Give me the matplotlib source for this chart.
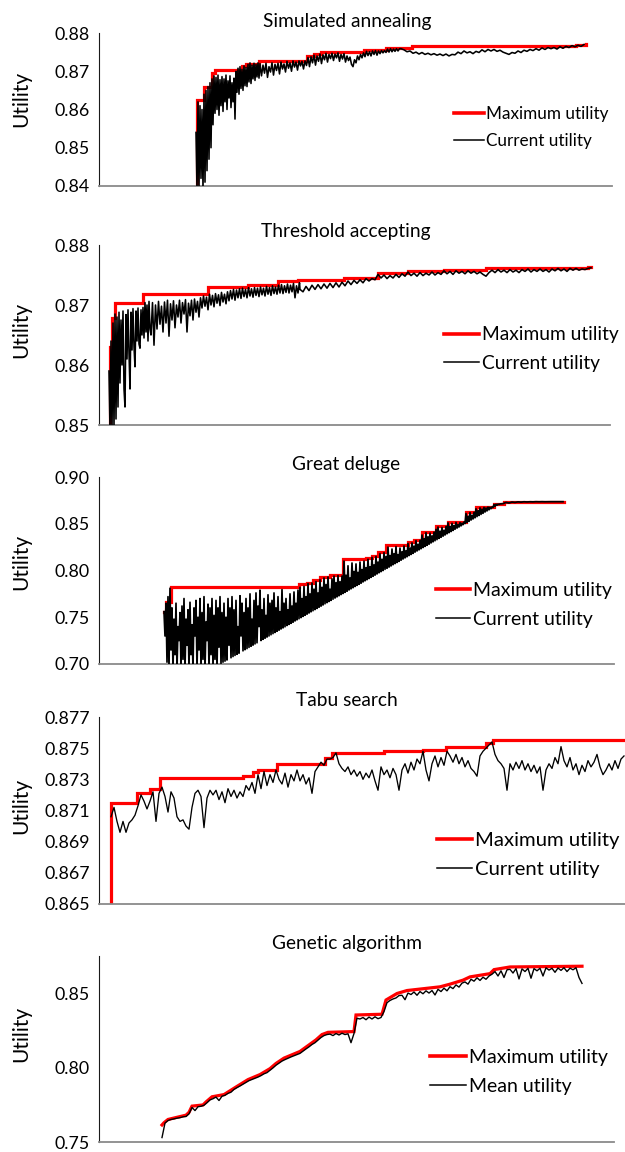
import numpy as np
import matplotlib
matplotlib.use("Agg")
import matplotlib.pyplot as plt
from matplotlib.lines import Line2D

plt.rcParams['font.family'] = ['Lato', 'DejaVu Sans']

W, H, DPI = 625, 1152, 100

# ======================= DATA (iteration index, utility) =======================
# ---- Simulated annealing ----
sa_max_iter = [97, 97.5, 98, 105, 113, 116, 143, 147, 160, 208, 215, 222, 265, 287, 313, 477, 487]
sa_max = [0.8390, 0.8540, 0.8625, 0.8660, 0.8695, 0.8703, 0.8714, 0.8719, 0.8728, 0.8740,
          0.8745, 0.8750, 0.8755, 0.8760, 0.8766, 0.8769, 0.8771]
sa_cur_a_start, sa_cur_a_step = 97, 1
sa_cur_a = [0.8540, 0.8390, 0.8620, 0.8395, 0.8610, 0.8420, 0.8600, 0.8390, 0.8640, 0.8410,
            0.8650, 0.8440, 0.8660, 0.8470, 0.8670, 0.8500, 0.8680, 0.8560, 0.8688, 0.8590,
            0.8684, 0.8600, 0.8690, 0.8585, 0.8678, 0.8610, 0.8686, 0.8595, 0.8680, 0.8620,
            0.8690, 0.8600, 0.8675, 0.8630, 0.8688, 0.8605, 0.8670, 0.8620, 0.8682, 0.8575,
            0.8700, 0.8645, 0.8708, 0.8640, 0.8712, 0.8655, 0.8705, 0.8650, 0.8714, 0.8662,
            0.8710, 0.8660, 0.8718, 0.8672, 0.8722, 0.8668, 0.8716, 0.8680, 0.8721, 0.8676,
            0.8718, 0.8685, 0.8722, 0.8682]
sa_cur_b_start, sa_cur_b_step = 161, 1.5
sa_cur_b = [0.8720, 0.8688, 0.8716, 0.8695, 0.8721, 0.8684, 0.8712, 0.8698, 0.8722, 0.8690,
            0.8718, 0.8702, 0.8721, 0.8693, 0.8724, 0.8706, 0.8719, 0.8698, 0.8726, 0.8708,
            0.8722, 0.8700, 0.8727, 0.8711, 0.8724, 0.8703, 0.8727, 0.8714, 0.8726, 0.8706,
            0.8727, 0.8715, 0.8736, 0.8712, 0.8738, 0.8722, 0.8742, 0.8716, 0.8740, 0.8726,
            0.8745, 0.8720, 0.8743, 0.8730, 0.8747, 0.8724, 0.8744, 0.8733, 0.8747, 0.8728,
            0.8745, 0.8735, 0.8748, 0.8726, 0.8744, 0.8732, 0.8746, 0.8724, 0.8740, 0.8728,
            0.8737, 0.8718, 0.8712, 0.8730, 0.8722, 0.8740, 0.8730, 0.8744, 0.8735, 0.8748,
            0.8738, 0.8752, 0.8741, 0.8751, 0.8740, 0.8753, 0.8744, 0.8754, 0.8742, 0.8753,
            0.8746, 0.8754, 0.8748, 0.8754, 0.8749, 0.8758, 0.8750, 0.8759, 0.8751, 0.8758,
            0.8752, 0.8759, 0.8753, 0.8759]
sa_cur_c_start, sa_cur_c_step = 302, 3
sa_cur_c = [0.8759, 0.8756, 0.8751,
            0.8753, 0.8747, 0.8750, 0.8745, 0.8749, 0.8744, 0.8747, 0.8743, 0.8746, 0.8742,
            0.8745, 0.8741, 0.8745, 0.8740, 0.8744, 0.8743, 0.8750, 0.8746, 0.8753, 0.8748,
            0.8751, 0.8746, 0.8752, 0.8749, 0.8756, 0.8751, 0.8757, 0.8753, 0.8757, 0.8752,
            0.8755, 0.8750, 0.8747, 0.8744, 0.8749, 0.8747, 0.8753, 0.8749, 0.8755, 0.8752,
            0.8757, 0.8754, 0.8759, 0.8755, 0.8761, 0.8757, 0.8762, 0.8759, 0.8762, 0.8758,
            0.8764, 0.8760, 0.8765, 0.8762, 0.8767, 0.8764, 0.8768, 0.8765, 0.8770]

# ---- Threshold accepting ----
ta_max_iter = [10, 10.5, 13, 16, 44, 109, 149, 179, 199, 245, 279, 309, 345, 387, 489, 492]
ta_max = [0.8490, 0.8630, 0.8678, 0.8704, 0.8718, 0.8730, 0.8734, 0.8740, 0.8742, 0.8745,
          0.8753, 0.8757, 0.8759, 0.8761, 0.8763, 0.8763]
ta_cur_a_start, ta_cur_a_step = 10, 1
ta_cur_a = [0.8590, 0.8490, 0.8640, 0.8490, 0.8670, 0.8495, 0.8685, 0.8510, 0.8680, 0.8530,
            0.8688, 0.8570, 0.8675, 0.8600, 0.8690, 0.8560, 0.8530, 0.8684, 0.8610, 0.8692,
            0.8620, 0.8560, 0.8688, 0.8625, 0.8694, 0.8630, 0.8597, 0.8690, 0.8640, 0.8695,
            0.8635, 0.8628, 0.8692, 0.8650, 0.8696, 0.8645, 0.8704, 0.8655, 0.8700, 0.8640,
            0.8706, 0.8660]
ta_cur_b_start, ta_cur_b_step = 52, 1.5
ta_cur_b = [0.8650, 0.8704, 0.8633, 0.8700, 0.8660, 0.8706, 0.8668, 0.8698, 0.8655, 0.8705,
            0.8670, 0.8708, 0.8648, 0.8702, 0.8675, 0.8707, 0.8662, 0.8700, 0.8680, 0.8708,
            0.8670, 0.8704, 0.8685, 0.8709, 0.8655, 0.8703, 0.8682, 0.8708, 0.8675, 0.8710,
            0.8688, 0.8706, 0.8680, 0.8712, 0.8695, 0.8715, 0.8698, 0.8713, 0.8692, 0.8718,
            0.8700, 0.8716, 0.8697, 0.8719, 0.8703, 0.8717, 0.8699, 0.8721, 0.8705, 0.8718,
            0.8702, 0.8722, 0.8707, 0.8724, 0.8710, 0.8726, 0.8708, 0.8725, 0.8712, 0.8727,
            0.8711, 0.8728, 0.8714, 0.8726, 0.8712, 0.8729, 0.8715, 0.8727, 0.8713, 0.8729,
            0.8716, 0.8728, 0.8714, 0.8730, 0.8717, 0.8728, 0.8715, 0.8731, 0.8718, 0.8729,
            0.8716, 0.8732, 0.8719, 0.8730, 0.8718, 0.8733, 0.8720, 0.8734, 0.8719, 0.8732,
            0.8721, 0.8735, 0.8720, 0.8733, 0.8722, 0.8736, 0.8712, 0.8732, 0.8720, 0.8737]
ta_cur_c_start, ta_cur_c_step = 201, 3
ta_cur_c = [0.8726,
            0.8722, 0.8731, 0.8724, 0.8733, 0.8726, 0.8734, 0.8727, 0.8735, 0.8728, 0.8736,
            0.8729, 0.8737, 0.8730, 0.8738, 0.8732, 0.8740, 0.8734, 0.8741, 0.8736, 0.8742,
            0.8737, 0.8744, 0.8740, 0.8744, 0.8742, 0.8751, 0.8745, 0.8750, 0.8744, 0.8749,
            0.8745, 0.8751, 0.8746, 0.8752, 0.8748, 0.8755, 0.8749, 0.8753, 0.8748, 0.8754,
            0.8749, 0.8753, 0.8750, 0.8755, 0.8750, 0.8754, 0.8751, 0.8757, 0.8752, 0.8756,
            0.8751, 0.8757, 0.8753, 0.8756, 0.8752, 0.8757, 0.8753, 0.8756, 0.8752, 0.8755,
            0.8751, 0.8748, 0.8754, 0.8758, 0.8754, 0.8759, 0.8755, 0.8758, 0.8754, 0.8759,
            0.8755, 0.8758, 0.8754, 0.8759, 0.8756, 0.8760, 0.8755, 0.8759, 0.8756, 0.8760,
            0.8756, 0.8759, 0.8755, 0.8760, 0.8757, 0.8761, 0.8757, 0.8760, 0.8756, 0.8761,
            0.8758, 0.8761, 0.8758, 0.8760, 0.8759, 0.8761, 0.8762]

# ---- Great deluge ----
gd_max_iter = [65, 67, 72, 200, 208, 214, 221, 231, 244, 267, 273, 279, 287, 309, 315, 323,
               337, 349, 367, 377, 395, 405, 465]
gd_max = [0.7560, 0.7667, 0.7827, 0.7852, 0.7870, 0.7900, 0.7934, 0.7950, 0.8120, 0.8135,
          0.8160, 0.8200, 0.8270, 0.8300, 0.8326, 0.8415, 0.8476, 0.8522, 0.8629, 0.8682,
          0.8711, 0.8736, 0.8736]
gd_cur_a_start, gd_cur_a_step = 65, 1
gd_cur_a = [0.7560, 0.7300, 0.7650, 0.7020, 0.7720, 0.6950, 0.7810, 0.7150, 0.7600, 0.6950,
            0.7480, 0.7100, 0.7650, 0.6950, 0.7400, 0.7250, 0.7550, 0.6950, 0.7620, 0.7050,
            0.7700, 0.6950, 0.7480, 0.7200, 0.7580, 0.6950, 0.7660, 0.7100, 0.7420, 0.6950,
            0.7600, 0.7300, 0.7680, 0.6950, 0.7500, 0.7150, 0.7700, 0.6950, 0.7550, 0.7050,
            0.7720, 0.6950, 0.7450, 0.7250, 0.7640, 0.6950, 0.7600, 0.7100, 0.7700, 0.6960,
            0.7520, 0.7050, 0.7680, 0.6950, 0.7600, 0.7180, 0.7720, 0.7006, 0.7550, 0.7020,
            0.7650, 0.7031, 0.7500, 0.7043, 0.7700, 0.7200, 0.7600, 0.7067, 0.7720, 0.7080,
            0.7580, 0.7092, 0.7680, 0.7104, 0.7400, 0.7116, 0.7730, 0.7300, 0.7650, 0.7141,
            0.7550, 0.7153, 0.7700, 0.7165, 0.7600, 0.7178, 0.7750, 0.7190, 0.7480, 0.7202,
            0.7680, 0.7215, 0.7760, 0.7227, 0.7620, 0.7400, 0.7790, 0.7251, 0.7580, 0.7264,
            0.7700, 0.7276, 0.7520, 0.7288, 0.7740, 0.7300, 0.7650, 0.7313, 0.7680, 0.7325,
            0.7760, 0.7337, 0.7600, 0.7350, 0.7720, 0.7362, 0.7560, 0.7374, 0.7795, 0.7386,
            0.7650, 0.7398, 0.7700, 0.7411, 0.7580, 0.7423, 0.7750, 0.7435, 0.7620, 0.7447,
            0.7770, 0.7460, 0.7650, 0.7472, 0.7790, 0.7484, 0.7820, 0.7496, 0.7700, 0.7509,
            0.7830, 0.7521, 0.7720, 0.7533, 0.7860, 0.7545, 0.7750, 0.7558, 0.7865, 0.7570,
            0.7800, 0.7582, 0.7880, 0.7594, 0.7760, 0.7607, 0.7900, 0.7619, 0.7820, 0.7631,
            0.7920, 0.7644, 0.7850, 0.7656, 0.7930, 0.7668, 0.7800, 0.7680, 0.7910, 0.7693,
            0.7940, 0.7705, 0.7870, 0.7717, 0.7945, 0.7729, 0.7880, 0.7742, 0.7940, 0.7754,
            0.8100, 0.7766, 0.7950, 0.7778, 0.8050, 0.7791, 0.7920, 0.7803, 0.8080, 0.7815,
            0.7990, 0.7828, 0.8070, 0.7840, 0.7980, 0.7852, 0.8090, 0.7864, 0.8010, 0.7877,
            0.8100, 0.7889, 0.8030, 0.7901, 0.8120, 0.7913, 0.8040, 0.7926, 0.8140, 0.7938,
            0.8060, 0.7950, 0.8150, 0.7962, 0.8090, 0.7975, 0.8180, 0.7987, 0.8120, 0.7999,
            0.8190, 0.8012, 0.8150, 0.8024, 0.8250, 0.8036, 0.8160, 0.8048, 0.8230, 0.8061,
            0.8180, 0.8073, 0.8255, 0.8085, 0.8170, 0.8097, 0.8240, 0.8110, 0.8200, 0.8122,
            0.8262, 0.8134, 0.8210, 0.8146, 0.8290, 0.8159, 0.8240, 0.8171, 0.8295, 0.8183,
            0.8260, 0.8196, 0.8320, 0.8208, 0.8280, 0.8220, 0.8322, 0.8232, 0.8380, 0.8245,
            0.8340, 0.8257, 0.8405, 0.8269, 0.8360, 0.8281, 0.8400, 0.8294, 0.8370, 0.8306,
            0.8410, 0.8318, 0.8440, 0.8330, 0.8465, 0.8343, 0.8420, 0.8355, 0.8460, 0.8367,
            0.8430, 0.8379, 0.8470, 0.8392, 0.8510, 0.8404, 0.8470, 0.8416, 0.8505, 0.8428,
            0.8480, 0.8441, 0.8515, 0.8453, 0.8490, 0.8465, 0.8512, 0.8477, 0.8505, 0.8490,
            0.8518, 0.8502, 0.8610, 0.8514, 0.8580, 0.8526, 0.8620, 0.8539, 0.8590, 0.8551,
            0.8622, 0.8563, 0.8660, 0.8576, 0.8640, 0.8588, 0.8670, 0.8600, 0.8655, 0.8612,
            0.8675, 0.8625, 0.8668, 0.8637, 0.8678, 0.8649, 0.8676, 0.8661, 0.8680, 0.8674,
            0.8705, 0.8686, 0.8709, 0.8698, 0.8710, 0.8706]
gd_cur_b_start, gd_cur_b_step = 401, 3
gd_cur_b = [0.8712, 0.8715, 0.8728, 0.8722, 0.8732, 0.8728, 0.8734, 0.8731, 0.8735, 0.8733,
            0.8735, 0.8734, 0.8736, 0.8735, 0.8736, 0.8735, 0.8736, 0.8736, 0.8736, 0.8736,
            0.8736, 0.8736]

# ---- Tabu search ----
ts_max_iter = [11, 11.5, 38, 51, 61, 144, 154, 159, 178, 226, 233, 285, 324, 347, 387, 394, 526]
ts_max = [0.8640, 0.8715, 0.8721, 0.8724, 0.8731, 0.8732, 0.8735, 0.8736, 0.8740, 0.87435,
          0.8747, 0.8748, 0.8749, 0.8751, 0.8753, 0.8755, 0.8755]
ts_cur_start, ts_cur_step = 12, 3
ts_cur = [0.8706, 0.8712, 0.8703, 0.8696, 0.8703, 0.8696, 0.8702, 0.8704, 0.8707, 0.8713,
          0.8720, 0.8716, 0.8711, 0.8716, 0.8722, 0.8703, 0.8721, 0.8725, 0.8719, 0.8709,
          0.8722, 0.8718, 0.8706, 0.8703, 0.8704, 0.8700, 0.8698, 0.8712, 0.8721, 0.8723,
          0.8719, 0.8699, 0.8718, 0.8723, 0.8720, 0.8723, 0.8717, 0.8722, 0.8715, 0.8724,
          0.8719, 0.8723, 0.8718, 0.8722, 0.8719, 0.8726, 0.8723, 0.8728, 0.8721, 0.8733,
          0.8724, 0.8735, 0.8726, 0.8733, 0.8728, 0.8736, 0.8730, 0.8727, 0.8734, 0.8725,
          0.8733, 0.8729, 0.8736, 0.8729, 0.8733, 0.8727, 0.8731, 0.8721, 0.8735, 0.8738,
          0.8741, 0.8739, 0.8743, 0.8743, 0.8744, 0.8747, 0.8740, 0.8737, 0.8735, 0.8738,
          0.8733, 0.8736, 0.8732, 0.8735, 0.8730, 0.8734, 0.8731, 0.8736, 0.8729, 0.8723,
          0.8738, 0.8733, 0.8736, 0.8731, 0.8737, 0.8733, 0.8723, 0.8736, 0.8740, 0.8734,
          0.8741, 0.8736, 0.8743, 0.8740, 0.8748, 0.8736, 0.8729, 0.8740, 0.8745, 0.8738,
          0.8744, 0.8739, 0.8748, 0.8745, 0.8741, 0.8746, 0.8740, 0.8744, 0.8738, 0.8742,
          0.8737, 0.8735, 0.8732, 0.8745, 0.8748, 0.8750, 0.8752, 0.8754, 0.8746, 0.8742,
          0.8740, 0.8737, 0.8723, 0.8740, 0.8736, 0.8741, 0.8737, 0.8742, 0.8736, 0.8740,
          0.8735, 0.8739, 0.8734, 0.8738, 0.8723, 0.8736, 0.8740, 0.8737, 0.8744, 0.8740,
          0.8751, 0.8742, 0.8738, 0.8744, 0.8736, 0.8740, 0.8733, 0.8739, 0.8735, 0.8742,
          0.8738, 0.8741, 0.8746, 0.8738, 0.8733, 0.8736, 0.8740, 0.8736, 0.8742, 0.8737,
          0.8743, 0.8745]

# ---- Genetic algorithm ----
ga_max_iter = [63, 65, 69, 77, 87, 90, 93, 104, 107, 113, 125, 137, 149, 161, 171, 177, 185,
               201, 217, 223, 229, 255, 257, 283, 287, 298, 308, 341, 351, 364, 371, 391, 395,
               411, 483]
ga_max = [0.7615, 0.7630, 0.7652, 0.7665, 0.7681, 0.7700, 0.7742, 0.7750, 0.7770, 0.7805,
          0.7820, 0.7871, 0.7921, 0.7955, 0.7995, 0.8030, 0.8066, 0.8111, 0.8189, 0.8225,
          0.8240, 0.8245, 0.8357, 0.8362, 0.8458, 0.8502, 0.8522, 0.8547, 0.8565, 0.8592,
          0.8614, 0.8636, 0.8663, 0.8681, 0.8686]
ga_mean_start, ga_mean_step = 63, 3
ga_mean = [0.7530, 0.7628, 0.7645, 0.7652, 0.7656, 0.7661, 0.7664, 0.7670, 0.7672, 0.7690,
           0.7733, 0.7712, 0.7738, 0.7741, 0.7748, 0.7765, 0.7784, 0.7792, 0.7803, 0.7780,
           0.7809, 0.7815, 0.7828, 0.7836, 0.7855, 0.7867, 0.7878, 0.7890, 0.7902, 0.7914,
           0.7922, 0.7930, 0.7938, 0.7948, 0.7960, 0.7968, 0.7984, 0.8000, 0.8018, 0.8032,
           0.8046, 0.8056, 0.8065, 0.8074, 0.8082, 0.8090, 0.8098, 0.8113, 0.8128, 0.8142,
           0.8158, 0.8170, 0.8188, 0.8205, 0.8218, 0.8225, 0.8228, 0.8218, 0.8232, 0.8222,
           0.8234, 0.8225, 0.8230, 0.8170, 0.8232, 0.8335, 0.8330, 0.8340, 0.8325, 0.8343,
           0.8330, 0.8345, 0.8332, 0.8340, 0.8380, 0.8440, 0.8455, 0.8465, 0.8472, 0.8488,
           0.8490, 0.8460, 0.8505, 0.8495, 0.8512, 0.8490, 0.8515, 0.8500, 0.8520, 0.8505,
           0.8522, 0.8492, 0.8530, 0.8515, 0.8538, 0.8520, 0.8548, 0.8535, 0.8560, 0.8545,
           0.8572, 0.8580, 0.8565, 0.8598, 0.8585, 0.8608, 0.8590, 0.8612, 0.8598, 0.8620,
           0.8632, 0.8650, 0.8620, 0.8655, 0.8610, 0.8662, 0.8665, 0.8640, 0.8670, 0.8600,
           0.8668, 0.8650, 0.8672, 0.8605, 0.8670, 0.8655, 0.8672, 0.8620, 0.8675, 0.8660,
           0.8672, 0.8645, 0.8674, 0.8658, 0.8676, 0.8650, 0.8673, 0.8662, 0.8676, 0.8610,
           0.8570]

# ======================= helpers =======================
def seg_x(start, step, vals):
    return start + step * np.arange(len(vals))


def fig_rect(left, top, right, bottom):
    return [left / W, 1 - bottom / H, (right - left) / W, (bottom - top) / H]


RED, BLACK = '#FF0000', '#000000'

fig = plt.figure(figsize=(W / DPI, H / DPI), dpi=DPI)

panels = [
    dict(title='Simulated annealing', box=(99, 33, 612, 186), xmax=513,
         ylim=(0.84, 0.88), yticks=[0.84, 0.85, 0.86, 0.87, 0.88], fmt='{:.2f}',
         max=(sa_max_iter, sa_max),
         cur=[(sa_cur_a_start, sa_cur_a_step, sa_cur_a), (sa_cur_b_start, sa_cur_b_step, sa_cur_b),
              (sa_cur_c_start, sa_cur_c_step, sa_cur_c)],
         labels=('Maximum utility', 'Current utility'), blw=1.15,
         title_xy=(347, 21), ylab_y=99, leg=(454, 127.5), leg_fs=12.3, hl=1.75),
    dict(title='Threshold accepting', box=(99, 245, 610, 425), xmax=511,
         ylim=(0.85, 0.88), yticks=[0.85, 0.86, 0.87, 0.88], fmt='{:.2f}',
         max=(ta_max_iter, ta_max),
         cur=[(ta_cur_a_start, ta_cur_a_step, ta_cur_a), (ta_cur_b_start, ta_cur_b_step, ta_cur_b),
              (ta_cur_c_start, ta_cur_c_step, ta_cur_c)],
         labels=('Maximum utility', 'Current utility'), blw=1.15,
         title_xy=(346, 231), ylab_y=330, leg=(444, 349), leg_fs=13.8, hl=1.85),
    dict(title='Great deluge', box=(99, 477, 614, 664), xmax=515,
         ylim=(0.70, 0.90), yticks=[0.70, 0.75, 0.80, 0.85, 0.90], fmt='{:.2f}',
         max=(gd_max_iter, gd_max),
         cur=[(gd_cur_a_start, gd_cur_a_step, gd_cur_a), (gd_cur_b_start, gd_cur_b_step, gd_cur_b)],
         labels=('Maximum utility', 'Current utility'), blw=1.25,
         title_xy=(346, 465), ylab_y=562, leg=(436, 604.7), leg_fs=14.0, hl=1.75),
    dict(title='Tabu search', box=(99, 717, 625, 904), xmax=526,
         ylim=(0.865, 0.877), yticks=[0.865, 0.867, 0.869, 0.871, 0.873, 0.875, 0.877], fmt='{:.3f}',
         max=(ts_max_iter, ts_max),
         cur=[(ts_cur_start, ts_cur_step, ts_cur)],
         labels=('Maximum utility', 'Current utility'), blw=0.95,
         title_xy=(347, 701), ylab_y=806, leg=(437, 854.7), leg_fs=14.6, hl=1.72),
    dict(title='Genetic algorithm', box=(99, 956, 614, 1142), xmax=515,
         ylim=(0.75, 0.8755), yticks=[0.75, 0.80, 0.85], fmt='{:.2f}',
         max=(ga_max_iter, ga_max), max_steps=False,
         cur=[(ga_mean_start, ga_mean_step, ga_mean)],
         labels=('Maximum utility', 'Mean utility'), blw=1.0,
         title_xy=(347, 944), ylab_y=1034, leg=(430, 1072), leg_fs=14.0, hl=1.85),
]

for p in panels:
    ax = fig.add_axes(fig_rect(*p['box']))
    ax.set_xlim(0, p['xmax'])
    ax.set_ylim(*p['ylim'])
    ax.set_yticks(p['yticks'])
    ax.set_yticklabels([p['fmt'].format(v) for v in p['yticks']])
    ax.set_xticks([])
    ax.tick_params(axis='y', length=0, pad=6.5, labelsize=12.8, colors='#000000')
    for s in ('top', 'right'):
        ax.spines[s].set_visible(False)
    ax.spines['left'].set_color('#1a1a1a')
    ax.spines['left'].set_linewidth(0.8)
    ax.spines['bottom'].set_color('#8a8a8a')
    ax.spines['bottom'].set_linewidth(1.3)
    ax.patch.set_alpha(0)

    mx, my = p['max']
    ds = 'default' if p.get('max_steps') is False else 'steps-post'
    ax.plot(mx, my, color=RED, lw=2.3, drawstyle=ds, solid_joinstyle='miter', zorder=2)

    xs = np.concatenate([seg_x(s, st, v) for s, st, v in p['cur']])
    ys = np.concatenate([np.asarray(v) for _, _, v in p['cur']])
    ax.plot(xs, ys, color=BLACK, lw=p['blw'], zorder=3)

    handles = [Line2D([], [], color=RED, lw=2.6), Line2D([], [], color=BLACK, lw=1.1)]
    lx, ly = p['leg']
    ax.legend(handles, p['labels'], loc='center left',
              bbox_to_anchor=(lx / W, 1 - ly / H), bbox_transform=fig.transFigure,
              frameon=False, fontsize=p['leg_fs'], handlelength=p['hl'],
              handletextpad=0.15, labelspacing=0.6, borderpad=0, borderaxespad=0)

    tx, ty = p['title_xy']
    fig.text(tx / W, 1 - ty / H, p['title'], ha='center', va='center', fontsize=13.8)
    fig.text(21 / W, 1 - p['ylab_y'] / H, 'Utility', rotation=90, ha='center', va='center',
             fontsize=15)

fig.savefig('out.png', dpi=DPI)
